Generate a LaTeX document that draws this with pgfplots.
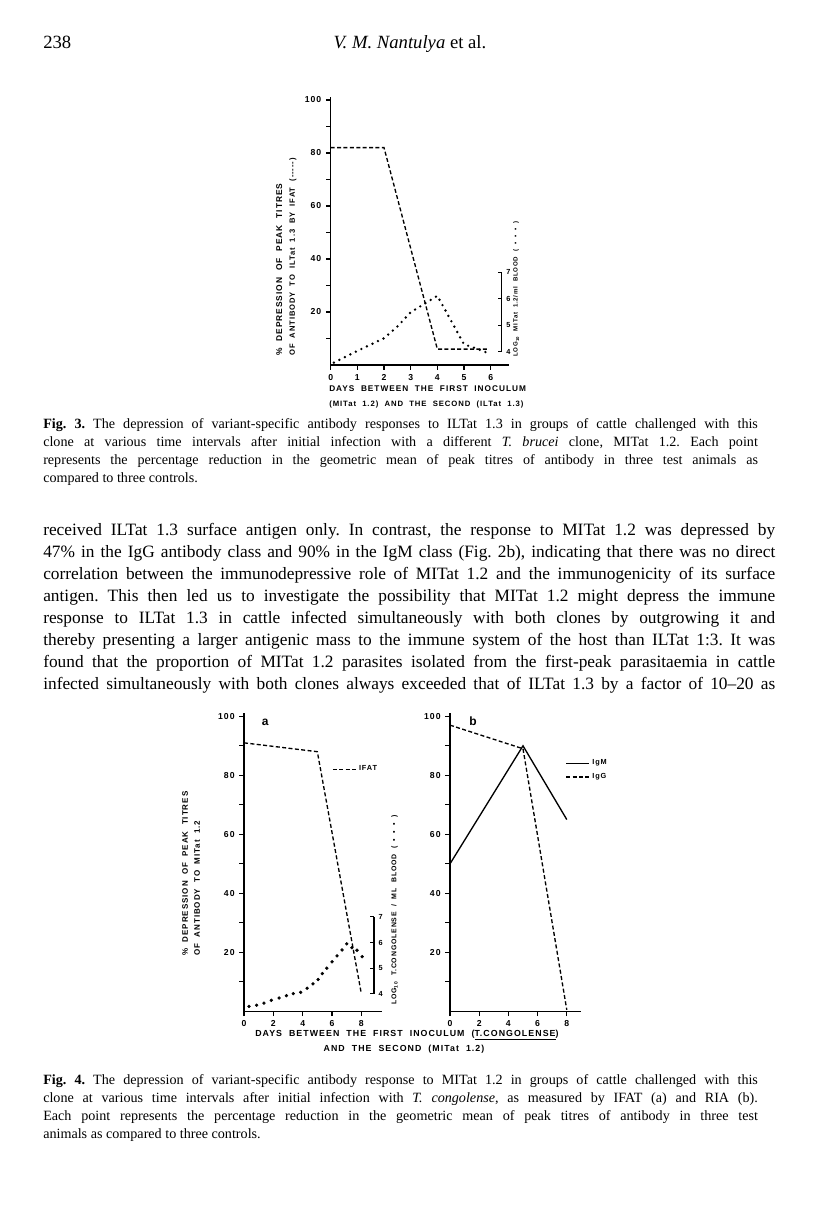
\documentclass[border=0pt]{standalone}
\usepackage{fontspec}
\setmainfont{Liberation Serif}
\setsansfont{Liberation Sans}
\newfontfamily\lab[LetterSpace=12,WordSpace=2]{Liberation Sans}
\usepackage{pgfplots}
\pgfplotsset{compat=1.18}
\frenchspacing

% page is laid out in pixels of the scan: 1px = 0.75pt, y downwards
\pgfplotsset{
  page axis/.style={
    scale only axis, anchor=south west, clip=false,
    axis x line*=bottom, axis y line*=left,
    axis line style={line width=1pt},
    tick align=outside, major tick length=3.5pt, minor tick length=3.5pt,
    tick style={black, line width=0.9pt},
    ymin=0, ymax=101,
    ytick={20,40,60,80,100}, minor ytick={10,30,50,70,90},
    tick label style={font=\lab\bfseries\fontsize{6.5}{7}\selectfont},
    /pgf/number format/assume math mode=true,
  },
  log scale/.style={
    scale only axis, anchor=south west, clip=false,
    hide x axis, axis y line*=right,
    axis line style={line width=1pt},
    ymin=4, ymax=7, ytick={4,5,6,7},
    tick align=inside, major tick length=3pt,
    tick style={black, line width=0.9pt},
    yticklabel style={font=\lab\bfseries\fontsize{5.5}{6}\selectfont},
    /pgf/number format/assume math mode=true,
  },
  dashline/.style={black, line width=1pt, dash pattern=on 3pt off 1.8pt},
  solidline/.style={black, line width=1pt},
  dotline/.style={black, line width=2pt, line cap=round, dash pattern=on 0pt off 4.6pt},
}

\begin{document}
\begin{tikzpicture}

% ---------------- Fig. 3 ----------------
\begin{axis}[page axis, at={(248.0pt,-273.75pt)}, width=133.4pt, height=200.8pt,
  xmin=0, xmax=6.67, xtick={0,1,2,3,4,5,6}]
\addplot[dashline] coordinates {(0,82) (2,82) (4,6) (5.9,6)};
\end{axis}

\begin{axis}[log scale, at={(248.0pt,-263.8pt)}, width=128.2pt, height=59.6pt,
  xmin=0, xmax=6.41]
\addplot[dotline] coordinates {
  (0.12,3.59) (1,4.03) (2,4.51) (2.5,4.95) (3,5.49) (4,6.11)
  (4.5,5.2) (5,4.28) (5.5,4.11) (6,3.91)};
\end{axis}

% ---------------- Fig. 4a ----------------
\begin{axis}[page axis, at={(183.0pt,-758.5pt)}, width=103.4pt, height=223.5pt,
  xmin=0, xmax=9.4, xtick={0,2,4,6,8},
  legend style={at={(axis cs:6.0,82)}, anchor=west, draw=none, fill=none,
    inner sep=0pt, font=\lab\bfseries\fontsize{5.5}{6}\selectfont}]
\addplot[dashline] coordinates {(0,91) (5,88) (8,6)};
\addlegendentry{IFAT}
\node[anchor=base west, font=\sffamily\bfseries\fontsize{9}{10}\selectfont] at (axis cs:0.9,97) {a};
\end{axis}

\begin{axis}[log scale, at={(183.0pt,-745.4pt)}, width=97.4pt, height=57.75pt,
  xmin=0, xmax=8.85]
\addplot[only marks, mark=*, mark size=1.05pt, black] coordinates {
  (0.34,3.51) (0.86,3.56) (1.36,3.64) (1.86,3.75) (2.39,3.84) (2.89,3.93)
  (3.36,4.01) (3.86,4.06) (4.30,4.22) (4.70,4.39) (5.05,4.56) (5.34,4.79)
  (5.64,5.00) (6.00,5.25) (6.34,5.48) (6.68,5.71) (7.00,5.95) (7.35,5.80)
  (7.70,5.70) (8.05,5.45)};
\end{axis}

% ---------------- Fig. 4b ----------------
\begin{axis}[page axis, at={(337.5pt,-758.5pt)}, width=98.55pt, height=223.5pt,
  xmin=0, xmax=9.0, xtick={0,2,4,6,8},
  legend cell align=left,
  legend style={at={(axis cs:7.9,86.3)}, anchor=north west, draw=none, fill=none,
    inner sep=0pt, row sep=1pt, font=\lab\bfseries\fontsize{5.5}{6}\selectfont}]
\addplot[solidline] coordinates {(0,50) (5,90) (8,65)};
\addlegendentry{IgM}
\addplot[dashline] coordinates {(0,97) (5,89) (8,0.5)};
\addlegendentry{IgG}
\node[anchor=base west, font=\sffamily\bfseries\fontsize{9}{10}\selectfont] at (axis cs:1.0,97) {b};
\end{axis}

\begin{scope}[x=0.75pt, y=-0.75pt]
\path[use as bounding box] (0,0) rectangle (816,1224);

% running head
\node[anchor=base west, inner sep=0pt, font=\fontsize{14}{16}\selectfont] at (43,48) {238};
\node[anchor=base, inner sep=0pt, font=\fontsize{14}{16}\selectfont] at (410,48) {\textit{V. M. Nantulya} et al.};

% Fig. 3 labels
\node[rotate=90, anchor=north west, inner sep=0pt,
  font=\lab\bfseries\fontsize{6.3}{8}\selectfont] at (276,356)
  {\% DEPRESSION OF PEAK TITRES};
\node[rotate=90, anchor=north west, inner sep=0pt,
  font=\lab\bfseries\fontsize{5.7}{8}\selectfont] at (289,356)
  {OF ANTIBODY TO ILTat 1.3 BY IFAT (-----)};
\node[rotate=90, anchor=north west, inner sep=0pt,
  font=\lab\bfseries\fontsize{4.6}{6}\selectfont] at (513,357)
  {LOG\textsubscript{10} MITat 1.2/ml BLOOD ( • • • )};
\node[anchor=west, inner sep=0pt, font=\lab\bfseries\fontsize{6.2}{7}\selectfont] at (329,389)
  {DAYS BETWEEN THE FIRST INOCULUM};
\node[anchor=west, inner sep=0pt, font=\lab\bfseries\fontsize{5.8}{7}\selectfont] at (329,404)
  {(MITat 1.2) AND THE SECOND (ILTat 1.3)};

% Fig. 3 caption
\node[anchor=north west, inner sep=0pt, text width=536pt, align=justify,
  font=\fontsize{10.6}{13.5}\selectfont] at (43,418)
  {\textbf{Fig. 3.} The depression of variant-specific antibody responses to ILTat 1.3 in groups of cattle challenged with this\linebreak
  clone at various time intervals after initial infection with a different \textit{T. brucei} clone, MITat 1.2. Each point\linebreak
  represents the percentage reduction in the geometric mean of peak titres of antibody in three test animals as\linebreak
  compared to three controls.};

% body text (last line runs on to the next page, so it is justified too)
\node[anchor=north west, inner sep=0pt, text width=549pt, align=justify,
  font=\fontsize{13}{16.5}\selectfont] at (43,523)
  {\parfillskip=0pt received ILTat 1.3 surface antigen only. In contrast, the response to MITat 1.2 was depressed by\linebreak
  47\% in the IgG antibody class and 90\% in the IgM class (Fig. 2b), indicating that there was no direct\linebreak
  correlation between the immunodepressive role of MITat 1.2 and the immunogenicity of its surface\linebreak
  antigen. This then led us to investigate the possibility that MITat 1.2 might depress the immune\linebreak
  response to ILTat 1.3 in cattle infected simultaneously with both clones by outgrowing it and\linebreak
  thereby presenting a larger antigenic mass to the immune system of the host than ILTat 1:3. It was\linebreak
  found that the proportion of MITat 1.2 parasites isolated from the first-peak parasitaemia in cattle\linebreak
  infected simultaneously with both clones always exceeded that of ILTat 1.3 by a factor of 10--20 as\par};

% Fig. 4 labels
\node[rotate=90, anchor=north west, align=left, inner sep=0pt,
  font=\lab\bfseries\fontsize{6}{9}\selectfont] at (182,956)
  {\% DEPRESSION OF PEAK TITRES\\OF ANTIBODY TO MITat 1.2};
\node[rotate=90, anchor=north west, inner sep=0pt,
  font=\lab\bfseries\fontsize{5.2}{6}\selectfont] at (391,1005)
  {LOG\textsubscript{10} T.CONGOLENSE / ML BLOOD ( • • • )};
\node[anchor=west, inner sep=0pt, font=\lab\bfseries\fontsize{6.6}{7}\selectfont] at (255,1035)
  {DAYS BETWEEN THE FIRST INOCULUM (\underline{T.CONGOLENSE})};
\node[anchor=center, inner sep=0pt, font=\lab\bfseries\fontsize{6.6}{7}\selectfont] at (404,1049)
  {AND THE SECOND (MITat 1.2)};

% Fig. 4 caption
\node[anchor=north west, inner sep=0pt, text width=536pt, align=justify,
  font=\fontsize{10.6}{13.5}\selectfont] at (43,1074)
  {\textbf{Fig. 4.} The depression of variant-specific antibody response to MITat 1.2 in groups of cattle challenged with this\linebreak
  clone at various time intervals after initial infection with \textit{T. congolense}, as measured by IFAT (a) and RIA (b).\linebreak
  Each point represents the percentage reduction in the geometric mean of peak titres of antibody in three test\linebreak
  animals as compared to three controls.};
\end{scope}
\end{tikzpicture}
\end{document}
